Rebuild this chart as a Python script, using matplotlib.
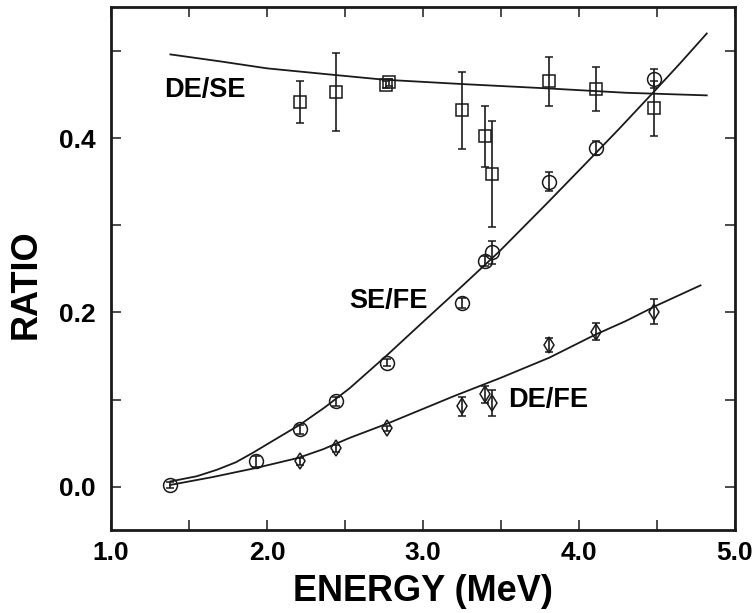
import numpy as np
import matplotlib.pyplot as plt

plt.rcParams['font.family'] = ['Liberation Sans', 'DejaVu Sans']
plt.rcParams['font.weight'] = 'bold'

# 測定点 (エネルギー [MeV])
energy = [1.38, 1.93, 2.21, 2.44, 2.77, 3.25, 3.40, 3.44, 3.81, 4.11, 4.48]

# SE/FE (丸)
se_fe = [0.002, 0.029, 0.066, 0.098, 0.142, 0.211, 0.259, 0.269, 0.350, 0.389, 0.468]
se_fe_err = [0.003, 0.006, 0.005, 0.005, 0.004, 0.006, 0.006, 0.013, 0.011, 0.008, 0.011]

# DE/SE (四角)
de_se_e = [2.21, 2.44, 2.76, 2.78, 3.25, 3.40, 3.44, 3.81, 4.11, 4.48]
de_se = [0.441, 0.453, 0.461, 0.464, 0.432, 0.402, 0.359, 0.465, 0.456, 0.434]
de_se_err = [0.024, 0.045, 0.004, 0.004, 0.044, 0.035, 0.061, 0.028, 0.025, 0.032]

# DE/FE (ひし形)
de_fe_e = [2.21, 2.44, 2.77, 3.25, 3.40, 3.44, 3.81, 4.11, 4.48]
de_fe = [0.029, 0.044, 0.067, 0.092, 0.106, 0.096, 0.163, 0.178, 0.201]
de_fe_err = [0.004, 0.004, 0.003, 0.011, 0.010, 0.015, 0.008, 0.010, 0.014]

# フィット曲線
fit_se_fe_x = [1.38, 1.55, 1.68, 1.80, 1.91, 2.05, 2.21, 2.37, 2.53, 2.77, 3.00,
               3.25, 3.49, 3.80, 4.05, 4.26, 4.48, 4.65, 4.82]
fit_se_fe_y = [0.006, 0.012, 0.0195, 0.028, 0.039, 0.054, 0.071, 0.091, 0.113, 0.151, 0.189,
               0.230, 0.270, 0.326, 0.372, 0.411, 0.453, 0.486, 0.520]
fit_de_se_x = [1.38, 1.70, 2.00, 2.40, 2.75, 3.25, 3.80, 4.30, 4.82]
fit_de_se_y = [0.496, 0.488, 0.480, 0.473, 0.467, 0.462, 0.457, 0.452, 0.449]
fit_de_fe_x = [1.38, 1.65, 1.93, 2.20, 2.36, 2.53, 2.78, 3.20, 3.50, 3.81, 4.10, 4.30, 4.50, 4.78]
fit_de_fe_y = [0.002, 0.011, 0.0215, 0.033, 0.043, 0.056, 0.073, 0.104, 0.125, 0.148, 0.174,
               0.190, 0.208, 0.231]

fig = plt.figure(figsize=(7.56, 6.13), dpi=100)
ax = fig.add_axes([0.147, 0.135, 0.825, 0.853])

lc = '#1a1a1a'
ax.plot(fit_se_fe_x, fit_se_fe_y, color=lc, lw=1.3)
ax.plot(fit_de_se_x, fit_de_se_y, color=lc, lw=1.3)
ax.plot(fit_de_fe_x, fit_de_fe_y, color=lc, lw=1.3)

ebar = dict(ls='none', color=lc, ecolor=lc, mfc='none', mew=1.1, elinewidth=1.2, capsize=3, capthick=1.2)
ax.errorbar(energy, se_fe, yerr=se_fe_err, fmt='o', ms=10, **ebar)
ax.errorbar(de_se_e, de_se, yerr=de_se_err, fmt='s', ms=9, **ebar)
ax.errorbar(de_fe_e, de_fe, yerr=de_fe_err, fmt='d', ms=8.5, **ebar)

ax.text(1.34, 0.455, 'DE/SE', fontsize=19.5, fontweight='bold', va='center', ha='left')
ax.text(2.53, 0.213, 'SE/FE', fontsize=19.5, fontweight='bold', va='center', ha='left')
ax.text(3.545, 0.099, 'DE/FE', fontsize=19.5, fontweight='bold', va='center', ha='left')

ax.set_xlim(1.0, 5.0)
ax.set_ylim(-0.05, 0.55)
ax.set_xticks([1.0, 1.5, 2.0, 2.5, 3.0, 3.5, 4.0, 4.5, 5.0])
ax.set_xticklabels(['1.0', '', '2.0', '', '3.0', '', '4.0', '', '5.0'])
ax.set_yticks([0.0, 0.1, 0.2, 0.3, 0.4, 0.5])
ax.set_yticklabels(['0.0', '', '0.2', '', '0.4', ''])
ax.tick_params(direction='in', length=7, width=1.1, top=True, right=True, labelsize=19, color=lc)
ax.tick_params(axis='x', pad=8)
ax.tick_params(axis='y', pad=11)
for s in ax.spines.values():
    s.set_linewidth(2)
    s.set_color(lc)

ax.set_xlabel('ENERGY (MeV)', fontsize=26, fontweight='bold', labelpad=6)
ax.set_ylabel('RATIO', fontsize=26, fontweight='bold')
ax.yaxis.set_label_coords(-0.108, 0.47)

fig.savefig('out.png', dpi=100)
